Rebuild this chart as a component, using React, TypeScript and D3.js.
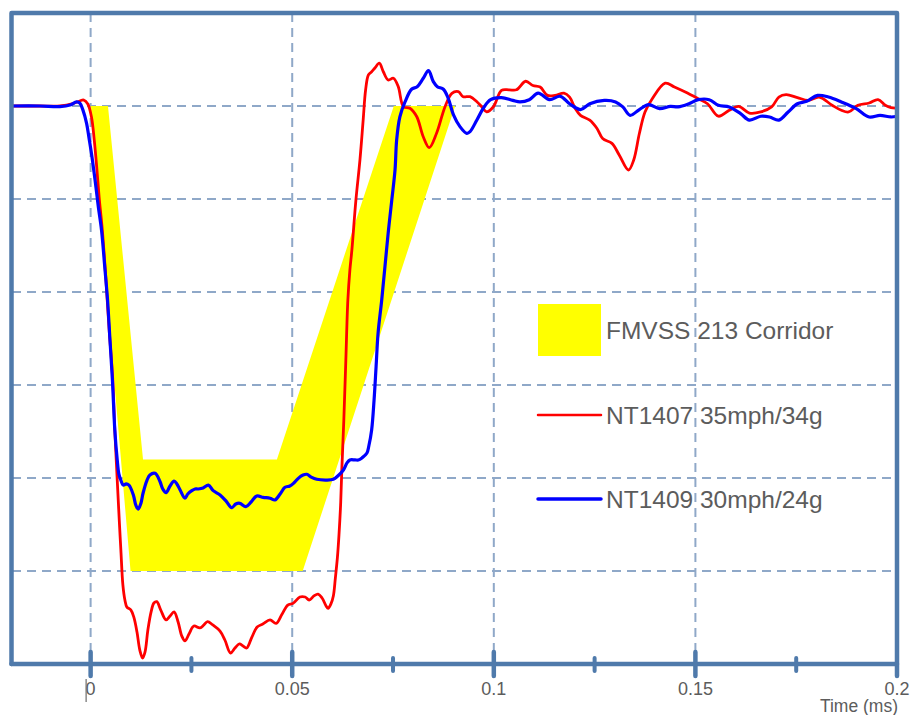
import { useEffect, useRef } from 'react';
import * as d3 from 'd3';

type Pt = [number, number]; // [time, acceleration g]

const xTicks = [0, 0.05, 0.1, 0.15, 0.2];
const xTickLabels = ['0', '0.05', '0.1', '0.15', '0.2'];
const xMinorTicks = [0.025, 0.075, 0.125, 0.175];
const xGrid = [0, 0.05, 0.1, 0.15];
const yGrid = [0, -5, -10, -15, -20, -25];

// FMVSS 213 sled pulse corridor (outer + inner boundary as one polygon)
const corridor: Pt[] = [
  [0, 0], [0.0043, 0], [0.013, -19], [0.0462, -19], [0.0752, 0],
  [0.0904, 0], [0.0526, -25], [0.0099, -25],
];

const nt1407: Pt[] = [
  [-0.0195, 0], [-0.0126, 0], [-0.0076, 0], [-0.0044, 0.13], [-0.0027, 0.27],
  [-0.0017, 0.32], [-0.0007, 0.11], [0.0002, -0.58], [0.0009, -1.83], [0.0015, -3.26],
  [0.0021, -4.88], [0.0029, -6.67], [0.0038, -9.35], [0.0046, -12.04], [0.0055, -14.73],
  [0.006, -17.42], [0.0066, -20.11], [0.0071, -22.26], [0.0075, -23.87], [0.008, -25.75],
  [0.0085, -26.56], [0.009, -26.94], [0.01, -27.1], [0.0107, -27.47], [0.0115, -28.28],
  [0.0122, -29.25], [0.0129, -29.68], [0.0135, -29.35], [0.0142, -28.17], [0.015, -27.2],
  [0.0157, -26.72], [0.0164, -26.65], [0.0174, -27.1], [0.0187, -27.63], [0.0197, -27.42],
  [0.0207, -27.2], [0.0217, -27.74], [0.0226, -28.49], [0.0234, -28.76], [0.0244, -28.39],
  [0.0256, -27.96], [0.0271, -28.06], [0.0281, -27.9], [0.029, -27.72], [0.0303, -27.9],
  [0.0321, -28.23], [0.0333, -28.71], [0.0347, -29.41], [0.0358, -29.14], [0.0369, -28.92],
  [0.0378, -29.03], [0.0387, -29.14], [0.04, -28.55], [0.0413, -28.01], [0.0427, -27.85],
  [0.0445, -27.63], [0.046, -27.82], [0.0475, -27.31], [0.0489, -26.83], [0.0502, -26.74],
  [0.0519, -26.4], [0.0532, -26.4], [0.0542, -26.56], [0.0554, -26.34], [0.0564, -26.24],
  [0.0574, -26.45], [0.0584, -26.88], [0.0589, -27.01], [0.0596, -26.77], [0.0602, -26.34],
  [0.0607, -25.38], [0.0612, -24.3], [0.0616, -23.06], [0.062, -21.45], [0.0623, -19.57],
  [0.0628, -16.88], [0.0633, -13.66], [0.0638, -10.43], [0.0643, -8.82], [0.0648, -7.74],
  [0.0658, -5.05], [0.0668, -2.9], [0.0676, -0.75], [0.0682, 0.86], [0.0689, 1.67],
  [0.0697, 1.84], [0.0705, 2.04], [0.0716, 2.3], [0.0726, 1.84], [0.0738, 1.4],
  [0.0751, 1.49], [0.0763, 1.04], [0.0776, -0.04], [0.0792, -0.12], [0.0809, -0.58],
  [0.0825, -1.65], [0.084, -2.24], [0.0858, -1.47], [0.0879, -0.04], [0.0896, 0.68],
  [0.0912, 0.77], [0.0924, 0.5], [0.0941, 0.5], [0.0958, 0.23], [0.097, -0.04],
  [0.0982, -0.31], [0.0999, -0.04], [0.1019, 0.84], [0.1038, 0.87], [0.1056, 0.87],
  [0.1079, 1.33], [0.1097, 1.1], [0.1115, 1.02], [0.1133, 0.57], [0.1152, 0.57],
  [0.1174, 0.69], [0.1188, 0.48], [0.1202, -0.14], [0.1215, -0.5], [0.1238, -0.76],
  [0.1256, -1.21], [0.127, -1.75], [0.1293, -2.01], [0.1311, -2.63], [0.1334, -3.44],
  [0.1347, -2.9], [0.1361, -1.48], [0.1375, -0.32], [0.1393, 0.39], [0.1425, 1.23],
  [0.1448, 1.02], [0.1475, 0.75], [0.1507, 0.39], [0.153, 0.12], [0.1557, -0.55],
  [0.1584, -0.23], [0.1607, -0.02], [0.1634, -0.38], [0.1662, -0.32], [0.1689, -0.05],
  [0.1707, 0.48], [0.1725, 0.61], [0.1753, 0.45], [0.178, 0.3], [0.1807, 0.48],
  [0.1839, 0.04], [0.1862, -0.23], [0.188, -0.32], [0.1903, 0.04], [0.1931, 0.16],
  [0.1953, 0.34], [0.1971, 0.04], [0.1985, -0.09], [0.2, -0.11],
];

const nt1409: Pt[] = [
  [-0.0195, 0], [-0.0126, 0], [-0.0076, -0.03], [-0.0051, 0.05], [-0.0035, 0.22],
  [-0.0027, 0.16], [-0.0019, -0.22], [-0.001, -0.93], [-0.0004, -1.72], [0.0002, -2.54],
  [0.0011, -3.98], [0.0019, -5.41], [0.0027, -6.67], [0.0035, -8.64], [0.0042, -10.43],
  [0.0048, -12.58], [0.0054, -14.73], [0.006, -17.42], [0.0066, -19.03], [0.007, -19.78],
  [0.0074, -20.05], [0.0081, -20.38], [0.0088, -20.32], [0.0095, -20.38], [0.0106, -20.91],
  [0.0112, -21.45], [0.0118, -21.67], [0.0125, -21.34], [0.013, -20.82], [0.014, -20.11],
  [0.0147, -19.84], [0.016, -19.75], [0.0172, -20.19], [0.0179, -20.59], [0.0187, -20.79],
  [0.0197, -20.43], [0.0207, -20.16], [0.0214, -20.32], [0.0222, -20.65], [0.0234, -21.09],
  [0.0241, -20.86], [0.0251, -20.68], [0.0259, -20.59], [0.0267, -20.59], [0.0279, -20.54],
  [0.0292, -20.38], [0.0304, -20.68], [0.0321, -20.91], [0.0337, -21.27], [0.035, -21.6],
  [0.036, -21.4], [0.037, -21.36], [0.0385, -21.54], [0.0398, -21.29], [0.0412, -20.97],
  [0.0428, -21.04], [0.0445, -21.09], [0.0457, -21.18], [0.047, -20.86], [0.0482, -20.5],
  [0.0494, -20.43], [0.0504, -20.27], [0.0515, -20.02], [0.0527, -19.84], [0.0536, -19.8],
  [0.0547, -19.95], [0.0561, -20.07], [0.0585, -20.11], [0.0602, -20.07], [0.0613, -19.89],
  [0.0627, -19.57], [0.0636, -19.19], [0.0643, -19.03], [0.0656, -19.03], [0.0664, -19.03],
  [0.0673, -18.92], [0.0685, -18.67], [0.069, -18.28], [0.0697, -17.42], [0.0703, -15.81],
  [0.0708, -14.02], [0.0713, -12.2], [0.0722, -10.43], [0.073, -8.64], [0.0738, -6.83],
  [0.0747, -5.05], [0.0755, -3.44], [0.0759, -1.83], [0.0767, -0.58], [0.078, 0.23],
  [0.0796, 0.9], [0.081, 1.04], [0.0825, 1.49], [0.0838, 1.9], [0.085, 1.31],
  [0.086, 1.04], [0.0875, 0.9], [0.0887, 0.41], [0.09, -0.48], [0.0916, -1.11],
  [0.0933, -1.47], [0.0941, -1.38], [0.0958, -0.75], [0.0974, -0.12], [0.0992, 0.34],
  [0.1019, 0.45], [0.1047, 0.3], [0.1065, 0.22], [0.1088, 0.34], [0.111, 0.69],
  [0.1138, 0.34], [0.1165, 0.52], [0.1188, 0.12], [0.1215, -0.19], [0.1238, 0.12],
  [0.1274, 0.3], [0.1302, 0.22], [0.132, -0.05], [0.1338, -0.5], [0.1361, -0.19],
  [0.1384, 0.07], [0.1411, -0.14], [0.1438, -0.02], [0.1457, -0.05], [0.1484, 0.12],
  [0.1507, 0.34], [0.1534, 0.34], [0.1557, 0.04], [0.1584, -0.05], [0.1612, -0.41],
  [0.1634, -0.76], [0.1662, -0.55], [0.1684, -0.59], [0.1707, -0.76], [0.173, -0.32],
  [0.1753, 0.12], [0.1776, 0.25], [0.1803, 0.57], [0.183, 0.48], [0.1862, 0.22],
  [0.1899, -0.14], [0.1931, -0.59], [0.1958, -0.5], [0.1985, -0.59], [0.2, -0.55],
];

const legendItems = [
  { label: 'FMVSS 213 Corridor', kind: 'box', color: '#ffff00' },
  { label: 'NT1407 35mph/34g', kind: 'line', color: '#ff0000' },
  { label: 'NT1409 30mph/24g', kind: 'line', color: '#0000ff' },
];

const WIDTH = 914;
const HEIGHT = 715;
const FRAME = '#4f7aab';
const GRID = '#8fa8c8';
const TEXT = '#5c5c5c';
const FONT = '"Liberation Sans", Arial, sans-serif';

export default function App() {
  const svgRef = useRef<SVGSVGElement>(null);

  useEffect(() => {
    if (!svgRef.current) return;
    const svg = d3.select(svgRef.current);
    svg.selectAll('*').remove();

    const x = d3.scaleLinear().domain([-0.0195, 0.2]).range([12, 897]);
    const y = d3.scaleLinear().domain([-30, 5]).range([664, 13]);
    const [left, right] = x.range();
    const [bottom, top] = y.range();

    // grid
    svg.append('g')
      .selectAll('line')
      .data(xGrid)
      .join('line')
      .attr('x1', d => x(d)).attr('x2', d => x(d))
      .attr('y1', top).attr('y2', bottom)
      .attr('stroke', GRID).attr('stroke-width', 2)
      .attr('stroke-dasharray', '9,6');

    svg.append('g')
      .selectAll('line')
      .data(yGrid)
      .join('line')
      .attr('x1', left).attr('x2', right)
      .attr('y1', d => y(d)).attr('y2', d => y(d))
      .attr('stroke', GRID).attr('stroke-width', 2)
      .attr('stroke-dasharray', '9,6');

    // corridor
    svg.append('path')
      .datum(corridor)
      .attr('fill', '#ffff00')
      .attr('d', d3.line<Pt>().x(d => x(d[0])).y(d => y(d[1])).curve(d3.curveLinearClosed));

    // traces
    const line = d3.line<Pt>()
      .x(d => x(d[0]))
      .y(d => y(d[1]))
      .curve(d3.curveCatmullRom.alpha(0.5));

    svg.append('path')
      .datum(nt1407)
      .attr('fill', 'none')
      .attr('stroke', '#ff0000')
      .attr('stroke-width', 2.8)
      .attr('stroke-linejoin', 'round')
      .attr('d', line);

    svg.append('path')
      .datum(nt1409)
      .attr('fill', 'none')
      .attr('stroke', '#0000ff')
      .attr('stroke-width', 3.2)
      .attr('stroke-linejoin', 'round')
      .attr('d', line);

    // frame + axis
    svg.append('path')
      .attr('d', `M${left - 0.5},${bottom} L${left - 0.5},${top} L${right},${top} L${right},${bottom + 12}`)
      .attr('fill', 'none')
      .attr('stroke', FRAME)
      .attr('stroke-width', 4.5)
      .attr('stroke-linejoin', 'round')
      .attr('stroke-linecap', 'round');

    svg.append('line')
      .attr('x1', left - 0.5).attr('x2', right)
      .attr('y1', bottom).attr('y2', bottom)
      .attr('stroke', FRAME).attr('stroke-width', 4.5)
      .attr('stroke-linecap', 'round');

    svg.append('g')
      .selectAll('line')
      .data(xTicks.slice(0, -1))
      .join('line')
      .attr('x1', d => x(d)).attr('x2', d => x(d))
      .attr('y1', bottom - 12).attr('y2', bottom + 12)
      .attr('stroke', FRAME).attr('stroke-width', 4.5)
      .attr('stroke-linecap', 'round');

    svg.append('g')
      .selectAll('line')
      .data(xMinorTicks)
      .join('line')
      .attr('x1', d => x(d)).attr('x2', d => x(d))
      .attr('y1', bottom - 6).attr('y2', bottom + 7)
      .attr('stroke', FRAME).attr('stroke-width', 4)
      .attr('stroke-linecap', 'round');

    svg.append('g')
      .selectAll('text')
      .data(xTicks)
      .join('text')
      .attr('x', d => x(d))
      .attr('y', bottom + 31)
      .attr('text-anchor', 'middle')
      .attr('font-family', FONT)
      .attr('font-size', 18)
      .attr('fill', TEXT)
      .text((_, i) => xTickLabels[i]);

    // stray stroke through the "0" label
    svg.append('line')
      .attr('x1', x(0) - 4.5).attr('x2', x(0) - 4.5)
      .attr('y1', bottom + 15).attr('y2', bottom + 38)
      .attr('stroke', '#777').attr('stroke-width', 1.3);

    svg.append('text')
      .attr('x', right + 1)
      .attr('y', bottom + 48)
      .attr('text-anchor', 'end')
      .attr('font-family', FONT)
      .attr('font-size', 17.5)
      .attr('fill', TEXT)
      .text('Time (ms)');

    // legend
    const legend = svg.append('g').attr('transform', 'translate(538,304)');
    const rowY = [26, 111, 195];
    legendItems.forEach((item, i) => {
      const g = legend.append('g').attr('transform', `translate(0,${rowY[i]})`);
      if (item.kind === 'box') {
        g.append('rect')
          .attr('x', 0).attr('y', -26)
          .attr('width', 63).attr('height', 52)
          .attr('fill', item.color);
      } else {
        g.append('line')
          .attr('x1', 0).attr('x2', 63)
          .attr('y1', 0).attr('y2', 0)
          .attr('stroke', item.color)
          .attr('stroke-width', i === 2 ? 3.5 : 2.5)
          .attr('stroke-linecap', 'round');
      }
      g.append('text')
        .attr('x', 68)
        .attr('y', 8.5)
        .attr('font-family', FONT)
        .attr('font-size', 24.5)
        .attr('fill', TEXT)
        .text(item.label);
    });
  }, []);

  return (
    <svg
      ref={svgRef}
      width={WIDTH}
      height={HEIGHT}
      style={{ position: 'absolute', left: 0, top: 0, background: '#fff' }}
    />
  );
}
